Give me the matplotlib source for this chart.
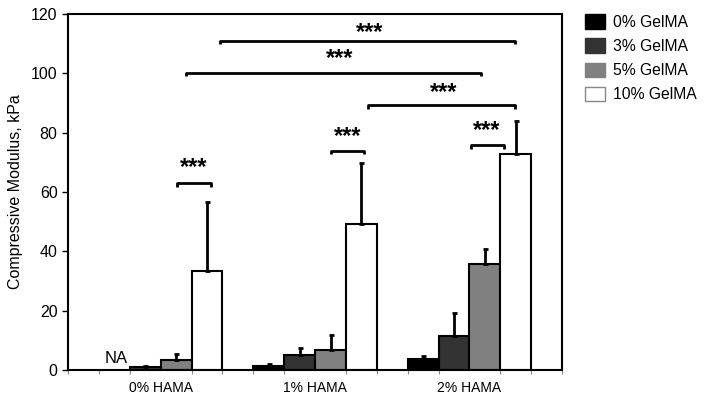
import matplotlib.pyplot as plt
from matplotlib.patches import Patch

plt.rcParams['font.family'] = ['Liberation Sans', 'DejaVu Sans']

groups = ['0% HAMA', '1% HAMA', '2% HAMA']
series = ['0% GelMA', '3% GelMA', '5% GelMA', '10% GelMA']
colors = ['#000000', '#333333', '#808080', '#ffffff']

# mean values per series (rows) and group (cols); None = NA
means = [
    [None, 1.4, 3.8],
    [1.1, 5.0, 11.3],
    [3.4, 6.8, 35.7],
    [33.4, 49.3, 72.9],
]
err_up = [
    [0.0, 0.5, 0.9],
    [0.3, 2.5, 7.8],
    [2.0, 4.9, 5.0],
    [23.3, 20.4, 11.1],
]

# significance brackets: x start, x end, height, star x, star centre y
brackets = [
    (4.92, 14.48, 111.0, 9.78, 114.3),
    (3.81, 13.38, 100.3, 8.81, 105.5),
    (9.71, 14.48, 89.3, 12.15, 94.1),
    (8.51, 9.59, 73.9, 9.04, 79.2),
    (13.04, 14.12, 75.8, 13.57, 81.2),
    (3.54, 4.63, 62.9, 4.08, 68.7),
]

fig = plt.figure(figsize=(7.08, 4.03), dpi=100)
ax = fig.add_axes([0.096, 0.082, 0.698, 0.883])

for s in range(len(series)):
    for g in range(len(groups)):
        v = means[s][g]
        if v is None:
            continue
        x = 1 + 5 * g + s + 0.5
        ax.bar(x, v, width=1.0, color=colors[s], edgecolor='black', linewidth=1.5, zorder=2)
        ax.errorbar(x, v, yerr=[[0], [err_up[s][g]]], fmt='none', ecolor='black',
                    elinewidth=2, capsize=1.8, capthick=2, zorder=3)

ax.text(1.55, 1.2, 'NA', ha='center', va='bottom', fontsize=12)

for x0, x1, h, sx, sy in brackets:
    ax.plot([x0, x0, x1, x1], [h - 1.2, h, h, h - 1.2], color='black', lw=2, solid_capstyle='butt')
    ax.text(sx, sy - 2.6, '***', ha='center', va='baseline', fontsize=17, fontweight='bold')

ax.set_xlim(0, 16)
ax.set_ylim(0, 120)
ax.set_yticks(range(0, 121, 20))
ax.set_xticks(range(0, 17), minor=True)
ax.set_xticks([3, 8, 13])
ax.set_xticklabels(groups, fontsize=10)
ax.tick_params(axis='x', which='major', length=0, pad=8)
ax.tick_params(axis='x', which='minor', length=3, width=0.8, color='#888888')
ax.tick_params(axis='y', length=4, width=1, labelsize=11.5)
ax.set_ylabel('Compressive Modulus, kPa', fontsize=11.5, labelpad=6)
for sp in ax.spines.values():
    sp.set_linewidth(1.5)

handles = [Patch(facecolor=c, edgecolor='#888888' if c == '#ffffff' else c) for c in colors]
fig.legend(handles, series, loc='upper left', bbox_to_anchor=(585 / 708, 1 - 14 / 403),
           frameon=False, fontsize=11.3, handlelength=1.3, handleheight=1.05,
           handletextpad=0.5, labelspacing=0.55, borderpad=0, borderaxespad=0)

fig.savefig('out.png', dpi=100)
